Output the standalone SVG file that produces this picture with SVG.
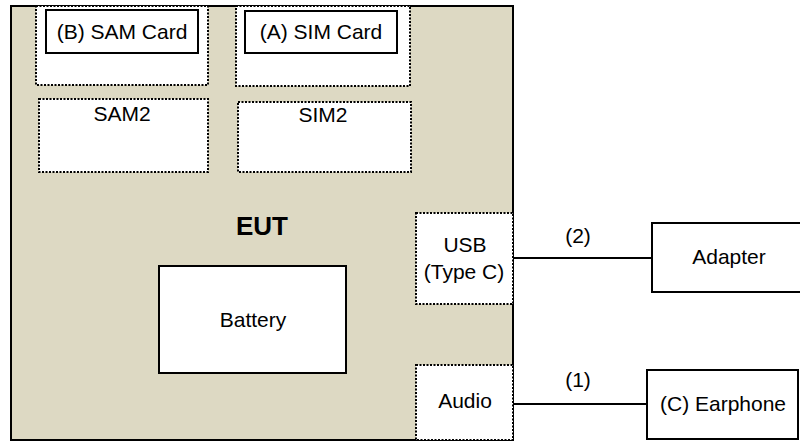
<svg xmlns="http://www.w3.org/2000/svg" width="800" height="444" viewBox="0 0 800 444">
<style>
text{font-family:"Liberation Sans",Arial,sans-serif;font-size:21px;fill:#000;text-anchor:middle}
.solid{fill:#fff;stroke:#000;stroke-width:2}
.dot{fill:#fff;stroke:#000;stroke-width:2;stroke-dasharray:2 1.5}
.wire{stroke:#000;stroke-width:2;fill:none}
</style>
<rect width="800" height="444" fill="#fff"/>
<g id="eut">
<rect x="11" y="6" width="502" height="434" fill="#DDD9C3" stroke="#000" stroke-width="2"/>
<text x="262" y="235" style="font-size:26px;font-weight:bold">EUT</text>
</g>
<g id="sam-slot"><rect class="dot" x="36" y="6" width="172" height="79"/></g>
<g id="sam-card"><rect class="solid" x="46" y="10" width="152" height="43"/><text x="122" y="39">(B) SAM Card</text></g>
<g id="sim-slot"><rect class="dot" x="236" y="6" width="174" height="80"/></g>
<g id="sim-card"><rect class="solid" x="245" y="11" width="152" height="42"/><text x="321" y="39">(A) SIM Card</text></g>
<g id="sam2"><rect class="dot" x="39" y="99" width="169" height="73"/><text x="122" y="121">SAM2</text></g>
<g id="sim2"><rect class="dot" x="238" y="102" width="173" height="70"/><text x="323" y="122">SIM2</text></g>
<g id="battery"><rect class="solid" x="159" y="266" width="187" height="107"/><text x="253" y="327">Battery</text></g>
<g id="usb"><rect class="dot" x="416" y="213" width="97" height="91"/><text x="465" y="252">USB</text><text x="464" y="279">(Type C)</text></g>
<g id="audio"><rect class="dot" x="416" y="365" width="97" height="75"/><text x="465" y="408">Audio</text></g>
<g id="adapter"><rect class="solid" x="652" y="223" width="156" height="69"/><text x="729" y="264">Adapter</text></g>
<g id="earphone"><rect class="solid" x="647" y="370" width="151" height="69"/><text x="723" y="411">(C) Earphone</text></g>
<g id="connectors">
<line class="wire" x1="513" y1="258" x2="652" y2="258"/>
<text x="578" y="243">(2)</text>
<line class="wire" x1="513" y1="404" x2="647" y2="404"/>
<text x="578" y="387">(1)</text>
</g>
</svg>
